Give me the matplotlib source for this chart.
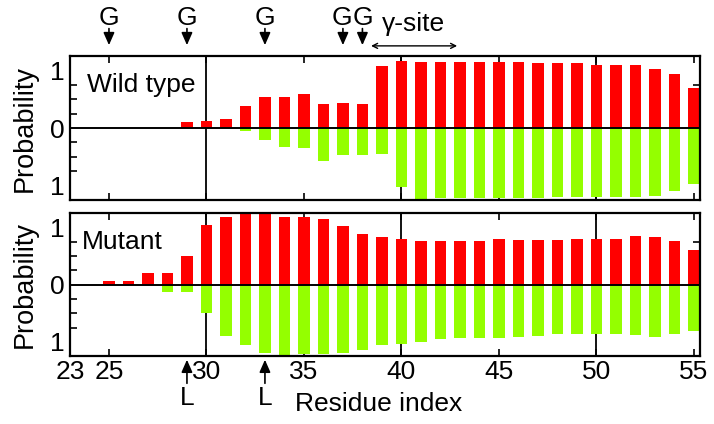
import matplotlib
matplotlib.use("Agg")
import matplotlib.pyplot as plt
import numpy as np

plt.rcParams['font.family'] = ['Liberation Sans', 'DejaVu Sans']

residues = np.arange(23, 56)

# probabilities (red = up, green = down)
wild_red = [0, 0, 0, 0, 0, 0, 0.10, 0.12, 0.15, 0.38, 0.53, 0.53, 0.59, 0.42, 0.44, 0.41,
            1.08, 1.17, 1.15, 1.15, 1.15, 1.15, 1.15, 1.14, 1.13, 1.13, 1.12, 1.10,
            1.09, 1.09, 1.03, 0.94, 0.70]
wild_green = [0, 0, 0, 0, 0, 0, 0, 0, 0, 0.05, 0.21, 0.33, 0.34, 0.57, 0.46, 0.46,
              0.45, 1.03, 1.23, 1.22, 1.22, 1.22, 1.22, 1.22, 1.21, 1.20, 1.20, 1.20,
              1.19, 1.19, 1.17, 1.10, 0.97]
mut_red = [0, 0, 0.07, 0.07, 0.20, 0.21, 0.51, 1.05, 1.19, 1.24, 1.24, 1.19, 1.18, 1.15,
           1.03, 0.89, 0.84, 0.80, 0.76, 0.77, 0.77, 0.77, 0.80, 0.78, 0.78, 0.78,
           0.80, 0.80, 0.80, 0.86, 0.83, 0.77, 0.60]
mut_green = [0, 0, 0, 0, 0, 0.12, 0.13, 0.49, 0.90, 1.06, 1.20, 1.24, 1.22, 1.21, 1.20,
             1.15, 1.06, 1.03, 1.00, 0.95, 0.94, 0.94, 0.94, 0.92, 0.89, 0.87, 0.87,
             0.87, 0.87, 0.88, 0.91, 0.87, 0.81]

g_sites = [25, 29, 33, 37, 38]
l_sites = [29, 33]
gamma_span = (38.3, 43.0)
xticks = [23, 25, 30, 35, 40, 45, 50, 55]

RED = '#ff0000'
GREEN = '#94ff00'
FS = 19
ARROW = dict(arrowstyle='-|>,head_length=0.5,head_width=0.22', color='k', lw=1.2,
             mutation_scale=15, shrinkA=0, shrinkB=0)

fig = plt.figure(figsize=(7.14, 4.24), dpi=100)
ax1 = fig.add_axes([0.098, 0.528, 0.882, 0.340])
ax2 = fig.add_axes([0.098, 0.160, 0.882, 0.337])

def panel(ax, red, green, label, lx):
    ax.bar(residues, red, width=0.6, color=RED, zorder=2)
    ax.bar(residues, -np.array(green), width=0.6, color=GREEN, zorder=2)
    ax.axhline(0, color='k', lw=1.4, zorder=3)
    for x in (30, 40, 50):
        ax.axvline(x, color='k', lw=1.3, zorder=1)
    ax.set_xlim(23, 55.3)
    ax.set_ylim(-1.25, 1.25)
    ax.set_yticks([-1, 0, 1])
    ax.set_yticklabels(['1', '0', '1'])
    ax.set_yticks(np.arange(-1.25, 1.26, 0.25), minor=True)
    ax.set_xticks(xticks)
    ax.tick_params(axis='both', which='both', direction='in', top=True, right=True,
                   labelsize=FS, width=1.2)
    ax.tick_params(axis='y', which='major', length=0, pad=4)
    ax.tick_params(axis='y', which='minor', length=5)
    ax.tick_params(axis='x', length=5, pad=3)
    for s in ax.spines.values():
        s.set_linewidth(1.6)
    ax.set_ylabel('Probability', fontsize=19.5, labelpad=9)
    ax.text(lx, 0.75, label, transform=ax.transAxes, fontsize=FS, va='baseline')

panel(ax1, wild_red, wild_green, 'Wild type', 0.027)
panel(ax2, mut_red, mut_green, 'Mutant', 0.019)
ax1.set_xticklabels([])
ax2.set_xlabel('Residue index', fontsize=FS)
ax2.xaxis.set_label_coords(0.49, -0.25)

trans = ('data', 'axes fraction')
for g in g_sites:
    ax1.annotate('', xy=(g, 1.075), xytext=(g, 1.19), xycoords=trans, textcoords=trans,
                 arrowprops=ARROW)
for g, dx in zip(g_sites, [0, 0, 0, -0.05, 0.05]):
    ax1.text(g + dx, 1.265, 'G', transform=ax1.get_xaxis_transform(), fontsize=FS,
             ha='center', va='center')
ax1.annotate('', xy=(gamma_span[0], 1.07), xytext=(gamma_span[1], 1.07),
             xycoords=trans, textcoords=trans,
             arrowprops=dict(arrowstyle='<->', color='k', lw=1.0, mutation_scale=9))
ax1.text(40.6, 1.22, 'γ-site', transform=ax1.get_xaxis_transform(), fontsize=FS,
         ha='center', va='center')

for l in l_sites:
    ax2.annotate('', xy=(l, -0.025), xytext=(l, -0.19), xycoords=trans, textcoords=trans,
                 arrowprops=ARROW)
    ax2.text(l, -0.29, 'L', transform=ax2.get_xaxis_transform(), fontsize=FS,
             ha='center', va='center')

fig.savefig('out.png', dpi=100)
